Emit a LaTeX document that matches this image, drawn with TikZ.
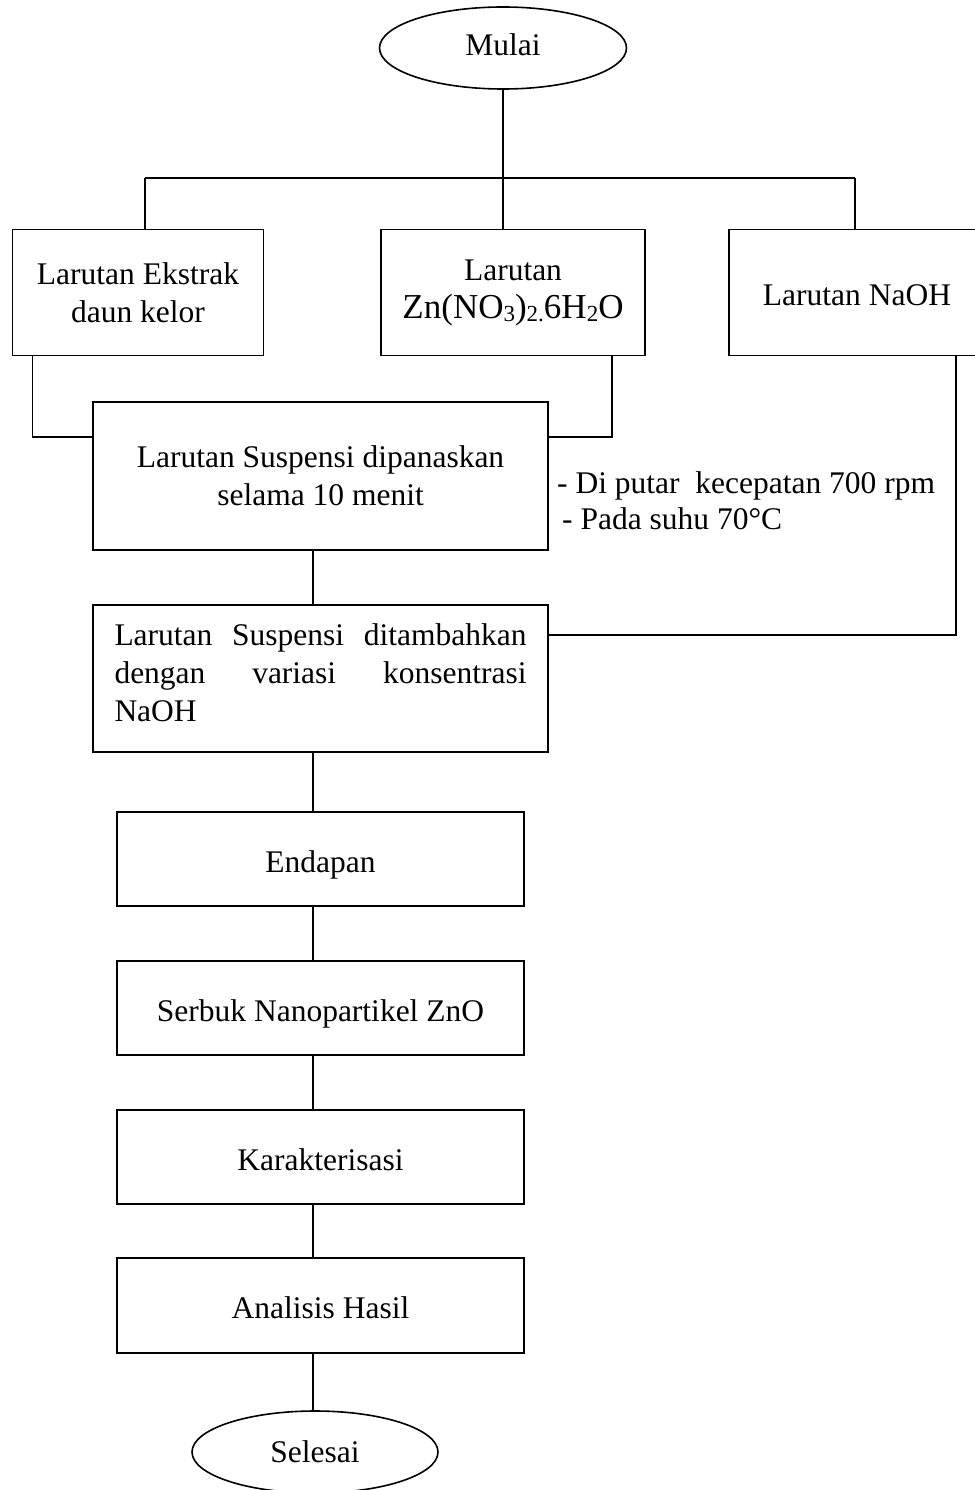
\documentclass[tikz,border=0pt]{standalone}
\usepackage{fontspec}
\setmainfont{Liberation Serif}
\usetikzlibrary{shapes.geometric}
\newcommand\lowsub[1]{\raisebox{-3pt}{\fontsize{23}{23}\selectfont #1}}
\begin{document}
\begin{tikzpicture}[x=1pt,y=-1pt,
  txt/.style={font=\fontsize{31.5}{38}\selectfont},
  box/.style={draw,line width=1.9pt,inner sep=0pt,txt},
  cbox/.style={box,align=center},
  one/.style={text height=26pt,text depth=0pt},
  oval/.style={ellipse,draw,line width=1.6pt,inner sep=0pt,txt,minimum width=247pt,minimum height=82pt},
  note/.style={anchor=base west,inner sep=0pt,txt},
  conn/.style={line width=1.6pt}]
\useasboundingbox (0,0) rectangle (974,1490);

% nodes
\node[oval,text height=21.5pt,text depth=7pt] (mulai) at (503,48) {Mulai};

\node[cbox,minimum width=251pt,minimum height=126pt] (b1) at (138,292.5) {Larutan Ekstrak\\daun kelor};
\node[cbox,minimum width=264pt,minimum height=126pt] (b2) at (513,292.5) {Larutan\\{\fontsize{35}{38}\selectfont Zn(NO\lowsub{3})\lowsub{2.}6H\lowsub{2}O}};
\node[cbox,one,minimum width=256pt,minimum height=126pt] (b3) at (857,292.5) {Larutan NaOH};

\node[cbox,minimum width=455pt,minimum height=148pt] (b4) at (320.5,476) {Larutan Suspensi dipanaskan\\selama 10 menit};
\node[note] (note1) at (557,493) {- Di putar\ \ kecepatan 700 rpm};
\node[note] (note2) at (562,529) {- Pada suhu 70°C};

\node[box,minimum width=455pt,minimum height=147pt] (b5) at (320.5,678.5)
  {\parbox{412pt}{\hyphenpenalty=10000 \tolerance=10000 \hbadness=10000
   Larutan Suspensi ditambahkan dengan variasi konsentrasi NaOH\strut}};

\node[cbox,one,minimum width=407pt,minimum height=94pt] (b6) at (320.5,859) {Endapan};
\node[cbox,one,minimum width=407pt,minimum height=94pt] (b7) at (320.5,1008) {Serbuk Nanopartikel ZnO};
\node[cbox,one,minimum width=407pt,minimum height=94pt] (b8) at (320.5,1157) {Karakterisasi};
\node[cbox,one,minimum width=407pt,minimum height=95pt] (b9) at (320.5,1305.5) {Analisis Hasil};

\node[oval,minimum width=246pt,text height=21.5pt,text depth=0pt] (selesai) at (315,1452) {Selesai};

% junction coordinates
\coordinate (jL) at (145,178);
\coordinate (jR) at (855,178);
\coordinate (ax) at (313,0);

% connectors
\draw[conn] (mulai.south) -- (mulai.south |- b2.north);
\draw[conn] (jL) -- (jR);
\draw[conn] (jL) -- (jL |- b1.north);
\draw[conn] (jR) -- (jR |- b3.north);
\draw[conn] ([xshift=21pt]b1.south west) |- ([yshift=39pt]b4.west);
\draw[conn] ([xshift=-34pt]b2.south east) |- ([yshift=39pt]b4.east);
\draw[conn] (b4.south -| ax) -- (b5.north -| ax);
\draw[conn] ([xshift=-30pt]b3.south east) |- ([yshift=43.5pt]b5.east);
\draw[conn] (b5.south -| ax) -- (b6.north -| ax);
\draw[conn] (b6.south -| ax) -- (b7.north -| ax);
\draw[conn] (b7.south -| ax) -- (b8.north -| ax);
\draw[conn] (b8.south -| ax) -- (b9.north -| ax);
\draw[conn] (b9.south -| ax) -- (selesai.north -| ax);
\end{tikzpicture}
\end{document}
